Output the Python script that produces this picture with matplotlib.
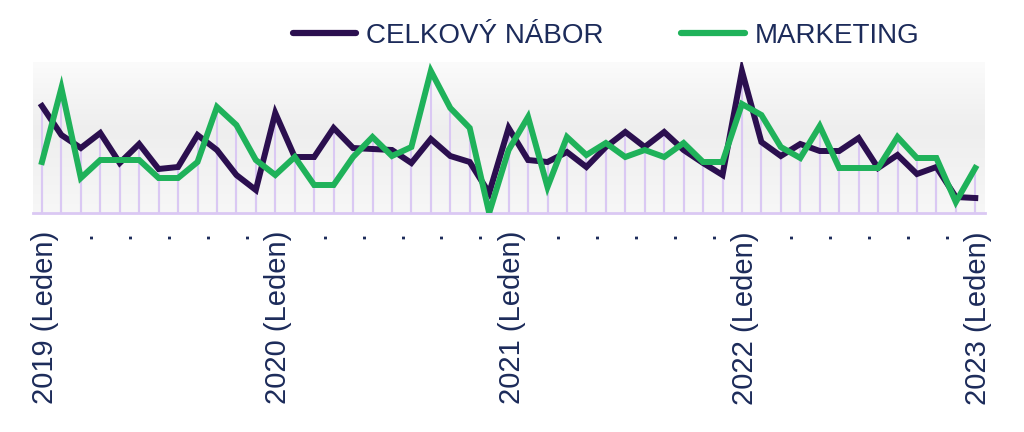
import numpy as np
import matplotlib
matplotlib.use("Agg")
import matplotlib.pyplot as plt
import matplotlib.transforms as mtransforms
from matplotlib.colors import LinearSegmentedColormap

plt.rcParams['font.family'] = ['Liberation Sans', 'DejaVu Sans']

# mesice od ledna 2019 do ledna 2023
roky = [2019, 2020, 2021, 2022, 2023]
mesice = list(range(49))

celkovy_nabor = [107, 78, 65, 80, 50, 69, 44, 46, 78, 63, 38, 23,
                 100, 56, 56, 85, 65, 64, 63, 50, 74, 57, 51, 20,
                 85, 53, 51, 61, 46, 66, 81, 66, 81, 63, 50, 38,
                 142, 71, 57, 69, 62, 62, 75, 45, 58, 39, 46, 16,
                 15]
marketing = [51, 125, 35, 53, 53, 53, 35, 35, 51, 106, 88, 53,
             38, 56, 28, 28, 56, 76, 57, 66, 142, 105, 85, 0,
             63, 96, 26, 76, 58, 70, 56, 63, 56, 70, 51, 51,
             109, 98, 66, 55, 87, 45, 45, 45, 76, 55, 55, 11,
             45]

barva_nabor = '#2b0f4f'
barva_marketing = '#1fb25a'
barva_textu = '#1c2b5a'
barva_mrizky = '#dac8f3'

fig = plt.figure(figsize=(10.24, 4.32), dpi=100)
ax = fig.add_axes([33 / 1024, 1 - 213 / 432, 952 / 1024, 151 / 432])

# jemny sedy prechod v pozadi
cmap = LinearSegmentedColormap.from_list('bg', [(0, '#f7f7f7'), (0.55, '#eeeeee'), (1, '#fbfbfb')])
grad = np.linspace(0, 1, 256).reshape(-1, 1)
ax.imshow(grad, aspect='auto', cmap=cmap, extent=[0, 1, 0, 1],
          transform=ax.transAxes, zorder=0, origin='lower')

ax.vlines(mesice, 0, celkovy_nabor, color=barva_mrizky, lw=1.5, zorder=1)
ax.vlines(mesice, 0, marketing, color=barva_mrizky, lw=1.5, zorder=1)

ax.plot(mesice, celkovy_nabor, color=barva_nabor, lw=4.3, label='CELKOVÝ NÁBOR',
        zorder=3, solid_joinstyle='miter')
ax.plot(mesice, marketing, color=barva_marketing, lw=4.3, label='MARKETING',
        zorder=4, solid_joinstyle='miter')

ax.set_xlim(-0.46, 48.5)
ax.set_ylim(0, 151)

for s in ['top', 'right', 'left']:
    ax.spines[s].set_visible(False)
ax.spines['bottom'].set_color(barva_mrizky)
ax.spines['bottom'].set_linewidth(2)
ax.spines['bottom'].set_zorder(2)

pozice = list(range(0, 49, 2))
popisky = []
for p in pozice:
    if p % 12 == 0:
        popisky.append(f'{roky[p // 12]} (Leden)')
    else:
        popisky.append('.')
ax.set_xticks(pozice)
ax.set_xticklabels(popisky, rotation=90, fontsize=21, color=barva_textu)
ax.tick_params(axis='x', length=0, pad=13)
ax.set_yticks([])

posun = mtransforms.ScaledTranslation(3 / 100, 0, fig.dpi_scale_trans)
for lbl in ax.get_xticklabels():
    lbl.set_transform(lbl.get_transform() + posun)

leg = fig.legend(loc='upper center', bbox_to_anchor=(0.592, 1.005), ncol=2, frameon=False,
                 fontsize=20, handlelength=2.3, handletextpad=0.35, columnspacing=2.8)
for t in leg.get_texts():
    t.set_color(barva_textu)
for h in leg.legend_handles:
    h.set_linewidth(4.5)
    h.set_solid_capstyle('round')

fig.savefig('out.png', dpi=100, facecolor='white')
